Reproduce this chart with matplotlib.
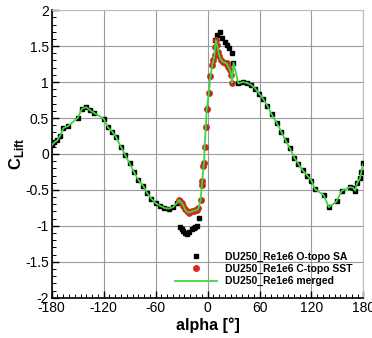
import matplotlib
matplotlib.use("Agg")
import matplotlib.pyplot as plt
from matplotlib.ticker import MultipleLocator, AutoMinorLocator, FuncFormatter
from matplotlib.lines import Line2D

plt.rcParams['font.family'] = ['Liberation Sans', 'DejaVu Sans']
plt.rcParams['axes.unicode_minus'] = False
plt.rcParams['mathtext.fontset'] = 'custom'
plt.rcParams['mathtext.rm'] = 'Liberation Sans'
plt.rcParams['mathtext.bf'] = 'Liberation Sans:bold'

# O-topo SA (black squares)
o_alpha = [-180, -177, -173.5, -170.5, -166.5, -161, -150, -145, -140, -136, -131,
           -120, -115, -110, -106, -100, -95, -90, -85, -80, -74, -70, -65, -60,
           -55, -50, -45, -40, -35.5,
           -32, -30, -28, -26, -24, -21, -18.3, -16, -14.4, -11.7, -10.2,
           -8, -6.7, -6, -4.8, -4, -3.5, -2, -1, 1.5, 3.3, 5.5, 6.8, 8,
           8.7, 11.4, 14.5, 17, 19.8, 22.2, 25.2, 27.9, 29.9,
           35.6, 40.6, 45.3, 50.3, 55, 59.5, 64.5, 69, 74, 80, 85, 90, 95, 100,
           105, 110, 115, 120, 124, 134, 140, 149, 155, 164.5, 168, 170.5,
           172.5, 176, 177.5, 180]
o_cl = [0.12, 0.16, 0.19, 0.25, 0.36, 0.39, 0.50, 0.63, 0.65, 0.61, 0.57,
        0.49, 0.37, 0.31, 0.24, 0.10, -0.02, -0.13, -0.25, -0.36, -0.45, -0.54, -0.62, -0.685,
        -0.72, -0.75, -0.76, -0.74, -0.685,
        -1.01, -1.05, -1.07, -1.10, -1.11, -1.09, -1.05, -1.03, -1.02, -1.00, -0.89,
        -0.64, -0.43, -0.37, -0.17, -0.12, 0.10, 0.38, 0.62, 0.85, 1.08, 1.24, 1.30, 1.38,
        1.59, 1.66, 1.69, 1.61, 1.56, 1.52, 1.48, 1.40, 1.27,
        0.98, 1.00, 0.99, 0.96, 0.91, 0.84, 0.76, 0.67, 0.55, 0.43, 0.31, 0.19, 0.08, -0.05,
        -0.14, -0.23, -0.30, -0.37, -0.49, -0.57, -0.74, -0.66, -0.51, -0.46, -0.47, -0.51,
        -0.41, -0.34, -0.25, -0.13]

# C-topo SST (red circles)
c_alpha = [-33, -31.5, -30, -28, -26, -24, -22, -20, -18, -16, -14, -12, -10.5,
           -8, -6.7, -6, -4.8, -4, -3.5, -2, -1, 1.5, 3.3, 5.5, 6.8, 8, 8.7, 9.8,
           11, 12.5, 13.7, 15.6, 17.5, 20, 22, 24, 26, 27.2, 28]
c_cl = [-0.64, -0.66, -0.68, -0.72, -0.77, -0.80, -0.815, -0.81, -0.80, -0.79, -0.785, -0.775, -0.755,
        -0.64, -0.43, -0.37, -0.17, -0.12, 0.10, 0.38, 0.62, 0.85, 1.08, 1.24, 1.30, 1.38, 1.49, 1.58,
        1.52, 1.42, 1.36, 1.31, 1.28, 1.27, 1.26, 1.21, 1.17, 1.10, 0.99]

# merged: O-topo outside the C-topo range, C-topo inside
m_alpha = [a for a in o_alpha if a < c_alpha[0]] + c_alpha + [a for a in o_alpha if a > c_alpha[-1]]
m_cl = ([c for a, c in zip(o_alpha, o_cl) if a < c_alpha[0]] + c_cl +
        [c for a, c in zip(o_alpha, o_cl) if a > c_alpha[-1]])

x_ticks = [-180, -120, -60, 0, 60, 120, 180]
labels = ['DU250_Re1e6 O-topo SA', 'DU250_Re1e6 C-topo SST', 'DU250_Re1e6 merged']

fig = plt.figure(figsize=(3.72, 3.38), dpi=100)
ax = fig.add_axes([0.139, 0.119, 0.838, 0.851])

ax.plot(o_alpha, o_cl, linestyle='none', marker='s', ms=2.5, color='black', zorder=3)
ax.plot(c_alpha, c_cl, linestyle='none', marker='o', ms=4, mfc='#9a3a1c', mec='#e0281c', mew=0.8, zorder=4)
ax.plot(m_alpha, m_cl, color='#3ed83e', lw=1.3, zorder=5)

ax.set_xlim(-180, 180)
ax.set_ylim(-2, 2)
ax.set_xticks(x_ticks)
ax.yaxis.set_major_locator(MultipleLocator(0.5))
ax.xaxis.set_minor_locator(AutoMinorLocator(9))
ax.yaxis.set_minor_locator(AutoMinorLocator(5))
ax.yaxis.set_major_formatter(FuncFormatter(lambda v, p: f'{v:g}'))
ax.tick_params(which='both', direction='in', top=False, right=False, labelsize=10, pad=2)
ax.tick_params(which='major', length=5, width=1)
ax.tick_params(which='minor', length=3, width=0.7)
ax.grid(True, which='major', color='#9a9a9a', lw=0.8)
for s in ['top', 'right']:
    ax.spines[s].set_color('#bbbbbb')
for s in ['left', 'bottom']:
    ax.spines[s].set_linewidth(1.2)

ax.set_xlabel('alpha [°]', fontsize=11.5, fontweight='bold', labelpad=2)
ax.set_ylabel(r'C$_{\mathbf{Lift}}$', fontsize=12, fontweight='bold', labelpad=-1)

handles = [Line2D([], [], linestyle='none', marker='s', ms=2.5, color='black'),
           Line2D([], [], linestyle='none', marker='o', ms=4, mfc='#e0281c', mec='#e0281c'),
           Line2D([], [], color='#3ed83e', lw=1.3)]
ax.legend(handles, labels, loc='lower right', bbox_to_anchor=(0.985, 0.018), frameon=False,
          prop={'weight': 'bold', 'size': 7.5}, handlelength=4, labelspacing=0.2,
          handletextpad=0.8, borderaxespad=0.2)

fig.savefig('out.png', dpi=100)
